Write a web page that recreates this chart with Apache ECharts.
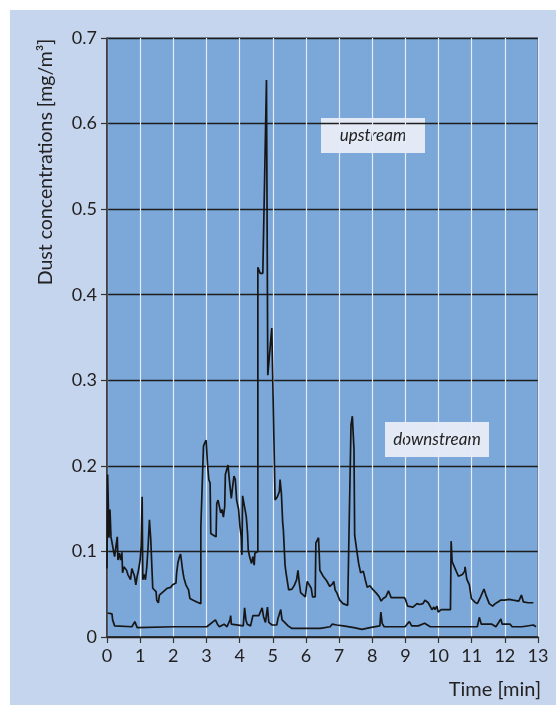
<!DOCTYPE html>
<html>
<head>
<meta charset="utf-8">
<script src="https://cdn.jsdelivr.net/npm/echarts@6/dist/echarts.min.js"></script>
<style>
html,body{margin:0;padding:0;background:#fff;}
#chart{width:556px;height:715px;}
</style>
</head>
<body>
<div id="chart"></div>
<script>
// ---- data (time in minutes, concentration in mg/m3) ----
var timeHigh = [0.00,0.02,0.06,0.09,0.12,0.19,0.23,0.27,0.31,0.33,0.37,0.41,0.45,0.47,0.51,0.55,0.59,0.63,0.67,0.71,0.75,0.80,0.83,0.87,0.91,0.95,1.00,1.03,1.06,1.08,1.12,1.16,1.20,1.24,1.28,1.32,1.36,1.38,1.44,1.48,1.50,1.55,1.58,1.64,1.70,1.76,1.82,1.86,1.92,1.98,2.08,2.10,2.14,2.18,2.22,2.24,2.28,2.32,2.38,2.46,2.50,2.60,2.71,2.83,2.83,2.89,2.91,2.95,2.99,3.03,3.07,3.11,3.13,3.21,3.29,3.31,3.35,3.39,3.43,3.47,3.51,3.55,3.57,3.61,3.65,3.67,3.71,3.75,3.79,3.83,3.87,3.91,3.97,4.01,4.05,4.07,4.09,4.14,4.20,4.24,4.26,4.30,4.36,4.40,4.44,4.46,4.55,4.55,4.60,4.62,4.70,4.81,4.85,4.97,5.07,5.14,5.20,5.22,5.26,5.30,5.32,5.37,5.40,5.48,5.58,5.66,5.72,5.76,5.80,5.84,5.90,5.98,6.04,6.10,6.16,6.20,6.28,6.30,6.34,6.38,6.40,6.42,6.52,6.62,6.72,6.80,6.84,6.88,6.94,7.02,7.12,7.26,7.32,7.36,7.38,7.40,7.45,7.47,7.51,7.53,7.59,7.65,7.73,7.79,7.85,7.93,8.03,8.13,8.21,8.27,8.33,8.41,8.49,8.53,8.57,8.79,8.97,9.01,9.07,9.13,9.23,9.29,9.35,9.43,9.47,9.53,9.59,9.63,9.69,9.73,9.80,9.86,9.89,9.95,9.99,10.04,10.08,10.20,10.36,10.38,10.41,10.50,10.60,10.72,10.79,10.80,10.85,10.93,10.99,11.09,11.17,11.27,11.37,11.43,11.53,11.63,11.71,11.79,11.87,11.99,12.13,12.25,12.42,12.50,12.56,12.70,12.86];
var valHigh = [0.080,0.190,0.116,0.149,0.117,0.102,0.094,0.106,0.117,0.090,0.098,0.090,0.099,0.075,0.082,0.084,0.078,0.073,0.074,0.067,0.080,0.080,0.071,0.061,0.071,0.078,0.090,0.106,0.164,0.067,0.073,0.067,0.082,0.106,0.137,0.114,0.112,0.057,0.055,0.053,0.043,0.040,0.049,0.051,0.053,0.054,0.057,0.055,0.058,0.061,0.063,0.075,0.087,0.093,0.097,0.098,0.078,0.069,0.061,0.055,0.045,0.043,0.041,0.039,0.128,0.130,0.223,0.227,0.230,0.203,0.184,0.180,0.121,0.119,0.117,0.156,0.160,0.161,0.145,0.149,0.140,0.152,0.190,0.192,0.201,0.192,0.176,0.162,0.176,0.188,0.184,0.160,0.149,0.129,0.117,0.096,0.165,0.165,0.141,0.121,0.102,0.094,0.086,0.094,0.084,0.098,0.100,0.432,0.432,0.425,0.425,0.651,0.306,0.361,0.160,0.164,0.170,0.184,0.168,0.133,0.125,0.084,0.075,0.055,0.056,0.061,0.067,0.078,0.063,0.052,0.050,0.047,0.065,0.067,0.057,0.047,0.047,0.110,0.112,0.116,0.098,0.078,0.071,0.066,0.059,0.062,0.065,0.055,0.051,0.043,0.039,0.037,0.037,0.248,0.250,0.258,0.219,0.119,0.117,0.102,0.086,0.075,0.077,0.067,0.058,0.060,0.055,0.051,0.047,0.042,0.045,0.047,0.054,0.052,0.046,0.046,0.046,0.043,0.036,0.034,0.035,0.037,0.039,0.038,0.037,0.039,0.043,0.044,0.040,0.038,0.032,0.035,0.032,0.036,0.029,0.027,0.032,0.032,0.032,0.112,0.088,0.080,0.071,0.073,0.077,0.082,0.068,0.061,0.045,0.041,0.039,0.047,0.056,0.049,0.039,0.036,0.039,0.041,0.043,0.043,0.044,0.043,0.042,0.049,0.041,0.040,0.040];

var timeLow = [0.02,0.15,0.17,0.23,0.75,0.84,0.87,0.91,2.00,3.01,3.27,3.33,3.39,3.53,3.62,3.71,3.73,3.75,3.79,4.11,4.15,4.19,4.23,4.33,4.40,4.58,4.64,4.68,4.72,4.78,4.84,4.88,4.98,5.04,5.12,5.16,5.20,5.24,5.28,5.36,5.46,5.58,6.43,6.49,6.73,6.79,6.93,7.13,7.45,7.69,7.93,7.98,8.23,8.26,8.30,8.36,8.99,9.05,9.12,9.19,9.39,9.58,9.75,10.35,10.40,10.46,11.17,11.23,11.29,11.61,11.73,11.88,11.92,12.16,12.22,12.52,12.58,12.86,12.94];
var valLow = [0.028,0.027,0.020,0.013,0.012,0.018,0.020,0.011,0.012,0.012,0.020,0.015,0.012,0.015,0.012,0.020,0.025,0.015,0.014,0.013,0.034,0.020,0.015,0.013,0.025,0.025,0.026,0.034,0.024,0.017,0.035,0.017,0.014,0.013,0.014,0.022,0.023,0.032,0.020,0.017,0.013,0.010,0.010,0.011,0.012,0.015,0.014,0.013,0.011,0.009,0.011,0.013,0.013,0.029,0.016,0.012,0.012,0.015,0.018,0.013,0.013,0.016,0.012,0.012,0.014,0.012,0.012,0.023,0.015,0.015,0.012,0.021,0.015,0.015,0.012,0.012,0.014,0.014,0.012];

var yTicks = ['0','0.1','0.2','0.3','0.4','0.5','0.6','0.7'];
var xTicks = ['0','1','2','3','4','5','6','7','8','9','10','11','12','13'];
var labelUp = 'upstream';
var labelDown = 'downstream';
var yTitle = 'Dust concentrations [mg/m\u00B3]';
var xTitle = 'Time [min]';

function pairs(t, v){ return t.map(function(x,i){ return [x, v[i]]; }); }

var FONT = 'Lato, "DejaVu Sans", sans-serif';
var chart = echarts.init(document.getElementById('chart'), null, {renderer:'canvas'});
chart.setOption({
  backgroundColor: '#ffffff',
  animation: false,
  graphic: [
    {type:'rect', z:-10, shape:{x:10, y:10, width:546, height:695}, style:{fill:'#C6D5EE'}},
    {type:'group', z:100, children:[
      {type:'rect', shape:{x:321, y:118, width:104, height:35}, style:{fill:'#E3E9F5'}},
      {type:'text', x:373, y:135.5, style:{text:labelUp, fontFamily:FONT, fontStyle:'italic', fontSize:17, fill:'#222', textAlign:'center', textVerticalAlign:'middle'}},
      {type:'rect', shape:{x:385, y:422, width:104, height:35}, style:{fill:'#E3E9F5'}},
      {type:'text', x:437, y:439.5, style:{text:labelDown, fontFamily:FONT, fontStyle:'italic', fontSize:17, fill:'#222', textAlign:'center', textVerticalAlign:'middle'}}
    ]},
    {type:'text', x:46, y:162, rotation:Math.PI/2, style:{text:yTitle, fontFamily:FONT, fontSize:19.5, fill:'#222', textAlign:'center', textVerticalAlign:'middle'}},
    {type:'text', x:541, y:690, style:{text:xTitle, fontFamily:FONT, fontSize:20, fill:'#222', textAlign:'right', textVerticalAlign:'middle'}}
  ],
  grid: {left:107, right:18, top:38, bottom:78, show:true, backgroundColor:'#7BA7D9', borderColor:'#4a5566', borderWidth:1},
  xAxis: {
    type:'value', min:0, max:13, interval:1,
    axisLine:{show:true, onZero:false, lineStyle:{color:'#222', width:1.5}},
    axisTick:{show:true, length:6, lineStyle:{color:'#333', width:1.2}},
    axisLabel:{margin:10, fontFamily:FONT, fontSize:18, color:'#222', formatter:function(v){ return xTicks[Math.round(v)]; }},
    splitLine:{show:true, lineStyle:{color:'#E4ECF8', width:1.2}}
  },
  yAxis: {
    type:'value', min:0, max:0.7, interval:0.1,
    axisLine:{show:true, onZero:false, lineStyle:{color:'#222', width:1.5}},
    axisTick:{show:true, length:6, lineStyle:{color:'#333', width:1.2}},
    axisLabel:{margin:10, fontFamily:FONT, fontSize:18, color:'#222', formatter:function(v){ return yTicks[Math.round(v*10)]; }},
    splitLine:{show:true, lineStyle:{color:'#1e1e1e', width:1.3}}
  },
  series: [
    {type:'line', data:pairs(timeHigh, valHigh), showSymbol:false, symbol:'none', lineStyle:{color:'#161616', width:1.7}, z:5},
    {type:'line', data:pairs(timeLow, valLow), showSymbol:false, symbol:'none', lineStyle:{color:'#161616', width:1.7}, z:5}
  ]
});
</script>
</body>
</html>
